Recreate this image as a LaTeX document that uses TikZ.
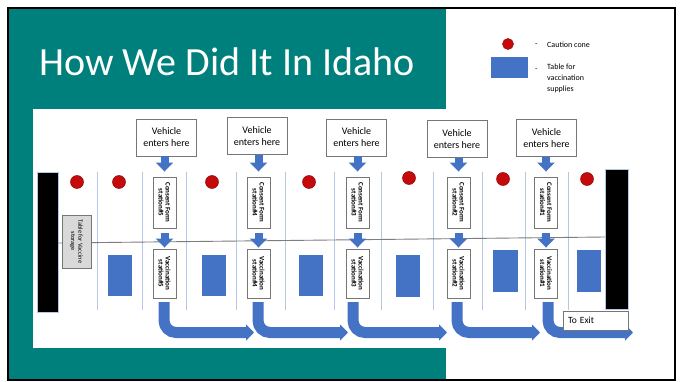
\documentclass[tikz,border=0pt]{standalone}
\usepackage{fontspec}
\setmainfont{Carlito}
\usetikzlibrary{arrows.meta}
\definecolor{tealbg}{RGB}{0,128,124}
\definecolor{tblue}{RGB}{68,114,196}
\definecolor{conered}{RGB}{196,10,10}
\definecolor{lanecol}{RGB}{180,199,231}
\definecolor{boxgray}{RGB}{118,118,118}
\definecolor{storegray}{RGB}{217,217,217}
\definecolor{hlinegray}{RGB}{125,125,125}
\begin{document}
\begin{tikzpicture}[x=1pt,y=-1pt,
  vehbox/.style={draw=boxgray, fill=white, line width=0.9pt, minimum width=60pt, minimum height=37pt, align=center, inner sep=0pt, font=\fontsize{10}{12}\selectfont},
  stbox/.style={draw=boxgray, fill=white, line width=0.9pt, rotate=-90, minimum height=23pt, align=center, inner sep=0pt, font=\bfseries\fontsize{7}{7}\selectfont},
  conebox/.style={stbox, minimum width=51pt},
  vacbox/.style={stbox, minimum width=49pt},
  cone/.style={circle, fill=conered, draw=conered!75!black, line width=0.5pt, minimum size=13pt, inner sep=0pt},
  tbl/.style={fill=tblue, draw=none, inner sep=0pt},
  lane/.style={draw=lanecol, line width=0.9pt},
  blackbar/.style={fill=black, draw=lanecol, line width=0.4pt, inner sep=0pt},
  darr/.style={draw=tblue, line width=8pt, -{Triangle[width=17pt,length=9pt]}},
  uarr/.style={draw=tblue, line width=11pt, rounded corners=12pt, -{Triangle[width=16pt,length=8pt]}},
  legtext/.style={anchor=west, inner sep=0pt, align=left, font=\fontsize{8}{11}\selectfont}
]
\useasboundingbox (0,0) rectangle (683,382);
% backgrounds
\fill[white] (0,0) rectangle (683,382);
\fill[tealbg] (9,9) rectangle (446,380);
\fill[white] (33,109) rectangle (675,348);

% title
\node[anchor=base west, text=white, inner sep=0pt, font=\fontsize{40}{48}\selectfont] (title) at (39,76) {How We Did It In Idaho};

% legend
\node[cone, minimum size=11pt] (lcone) at (508,44) {};
\node[legtext] (ldash1) at (535,45) {-};
\node[legtext] (lcone-t) at (547,45) {Caution cone};
\node[tbl, minimum width=37pt, minimum height=21pt] (ltbl) at (509.5,67.5) {};
\node[legtext] (ldash2) at (535,70) {-};
\node[legtext, anchor=north west] (ltbl-t) at (547,64) {Table for\\vaccination\\supplies};

% lane dividers
\foreach \x [count=\i] in {97,142,186,236,285,334,381,433,482,525,568}{
  \coordinate (lt\i) at (\x,172);
  \coordinate (lb\i) at (\x,310);
  \draw[lane] (lt\i) -- (lb\i);
}

% black bars
\node[blackbar, minimum width=21pt, minimum height=140pt] (lbar) at (47.5,242) {};
\node[blackbar, minimum width=23pt, minimum height=140pt] (rbar) at (616.5,239) {};

% long line
\coordinate (hl) at (58,243);
\coordinate (hr) at (605,237);
\draw[hlinegray, line width=0.9pt] (hl) -- (hr);

% storage table
\node[draw=boxgray, fill=storegray, line width=0.9pt, rotate=-90, minimum width=53pt, minimum height=29pt, align=center, inner sep=0pt, font=\fontsize{6.4}{7.2}\selectfont] (store) at (76.5,241.5) {Table for Vaccine\\storage};

% cones
\foreach \x/\y [count=\i] in {77/182,119/182,212/182,309/182,409/178,503/179,587/179}{
  \node[cone] (cone\i) at (\x,\y) {};
}

% supply tables
\node[tbl, minimum width=24pt, minimum height=41pt] (tb1) at (120,275.5) {};
\node[tbl, minimum width=24pt, minimum height=41pt] (tb2) at (214,275.5) {};
\node[tbl, minimum width=24pt, minimum height=41pt] (tb3) at (311,275.5) {};
\node[tbl, minimum width=24pt, minimum height=42pt] (tb4) at (408,276) {};
\node[tbl, minimum width=25pt, minimum height=42pt] (tb5) at (505.5,271) {};
\node[tbl, minimum width=24pt, minimum height=42pt] (tb6) at (589,271) {};

% vehicle boxes
\node[vehbox] (veh5) at (166.5,137.5) {Vehicle\\enters here};
\node[vehbox] (veh4) at (257,136) {Vehicle\\enters here};
\node[vehbox] (veh3) at (356.5,137.5) {Vehicle\\enters here};
\node[vehbox] (veh2) at (457,139) {Vehicle\\enters here};
\node[vehbox] (veh1) at (546.5,138) {Vehicle\\enters here};

% stations
\foreach \n/\x in {5/164.5,4/258.5,3/357.5,2/458.5,1/546}{
  \node[conebox] (cf\n) at (\x,202.5) {Consent Form\\station\#\n};
  \node[vacbox] (vs\n) at (\x,273.5) {Vaccination\\station\#\n};
}

% down arrows
\foreach \n in {5,4,3,2,1}{
  \draw[darr, shorten >=5pt] (veh\n.south -| cf\n.center) -- (cf\n.west);
  \draw[darr, shorten <=5pt, shorten >=1pt] (cf\n.east) -- (vs\n.west);
}

% U-turn arrows
\foreach \n/\xs/\xe in {5/164/254,4/258/348,3/353/447,2/457/540,1/548/633}{
  \coordinate (us\n) at (\xs,302);
  \coordinate (ue\n) at (\xe,332.5);
  \draw[uarr] (us\n) |- (ue\n);
}

% exit box
\node[draw=boxgray, fill=white, line width=0.9pt, minimum width=65pt, minimum height=19pt, text width=55pt, inner xsep=5pt, inner ysep=0pt, align=left, font=\fontsize{9.5}{11}\selectfont] (exit) at (595.5,320.5) {To Exit};

% frame
\draw[black, line width=2pt] (8,8) rectangle (675,380);
\end{tikzpicture}
\end{document}
